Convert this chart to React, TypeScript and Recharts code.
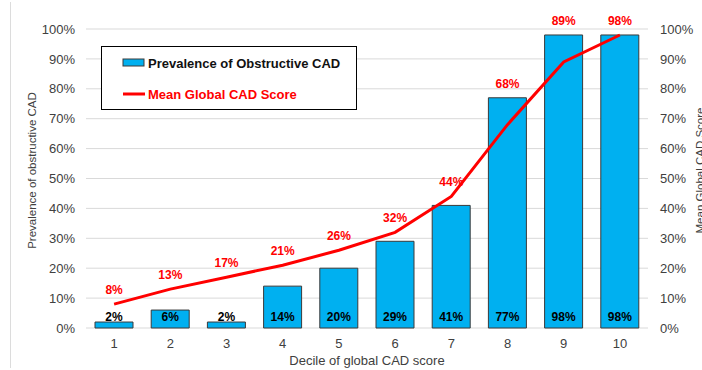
import React from 'react';
import {
  ComposedChart,
  Bar,
  Line,
  XAxis,
  YAxis,
  CartesianGrid,
  LabelList,
  Legend,
  Label,
} from 'recharts';

// Deciles of the global CAD score
const deciles = ['1', '2', '3', '4', '5', '6', '7', '8', '9', '10'];
// Prevalence of obstructive CAD per decile (%)
const prevalence = [2, 6, 2, 14, 20, 29, 41, 77, 98, 98];
// Mean global CAD score per decile (%)
const meanScore = [8, 13, 17, 21, 26, 32, 44, 68, 89, 98];
// Shared percent ticks for both value axes
const percentTicks = [0, 10, 20, 30, 40, 50, 60, 70, 80, 90, 100];

const barLegendName = 'Prevalence of Obstructive CAD';
const lineLegendName = 'Mean Global CAD Score';
const xTitle = 'Decile of global CAD score';
const leftTitle = 'Prevalence of obstructive CAD';
const rightTitle = 'Mean Global CAD Score';

const FONT = '"Liberation Sans", Arial, Helvetica, sans-serif';
const BAR_FILL = '#00B0F0';
const BAR_STROKE = '#3a3a3a';
const LINE_RED = '#FF0000';
const TEXT = '#404040';

const data = deciles.map((d, i) => ({
  decile: d,
  prevalence: prevalence[i],
  score: meanScore[i],
  // score labels sit above whichever mark is taller
  labelAnchor: Math.max(prevalence[i], meanScore[i]),
}));

const pct = (v: number) => `${v}%`;

const LegendBox = () => (
  <div
    style={{
      width: 256,
      height: 64,
      boxSizing: 'border-box',
      border: '1.5px solid #000',
      background: '#fff',
      fontFamily: FONT,
      fontWeight: 700,
      fontSize: 13,
      position: 'relative',
    }}
  >
    <div style={{ position: 'absolute', left: 20, top: 7, display: 'flex', alignItems: 'center', height: 18 }}>
      <svg width={24} height={10} style={{ marginRight: 2 }}>
        <rect x={1} y={1} width={21} height={7} fill={BAR_FILL} stroke={BAR_STROKE} strokeWidth={1} />
      </svg>
      <span style={{ color: '#111' }}>{barLegendName}</span>
    </div>
    <div style={{ position: 'absolute', left: 20, top: 38, display: 'flex', alignItems: 'center', height: 18 }}>
      <svg width={24} height={10} style={{ marginRight: 2 }}>
        <line x1={1} y1={5} x2={23} y2={5} stroke={LINE_RED} strokeWidth={3} />
      </svg>
      <span style={{ color: LINE_RED }}>{lineLegendName}</span>
    </div>
  </div>
);

const makeTitle = (text: string, dx: number, dyShift: number) => (props: any) => {
  const vb = props.viewBox || { x: 0, y: 29, width: 86, height: 299 };
  const cx = vb.x + dx;
  const cy = vb.y + vb.height / 2 + dyShift;
  return (
    <text
      x={cx}
      y={cy}
      transform={`rotate(-90, ${cx}, ${cy})`}
      textAnchor="middle"
      fontFamily={FONT}
      fontSize={11.5}
      fill={TEXT}
    >
      {text}
    </text>
  );
};

export default function App() {
  return (
    <div style={{ position: 'fixed', left: 0, top: 0, width: 702, height: 370, background: '#fff' }}>
      <div style={{ position: 'absolute', left: 10, top: 2, width: 1, height: 366, background: '#dcdcdc' }} />
      <ComposedChart
        width={702}
        height={370}
        data={data}
        margin={{ top: 29, right: 0, bottom: 0, left: 0 }}
        barCategoryGap={0}
        style={{ fontFamily: FONT }}
      >
        <CartesianGrid yAxisId="left" vertical={false} stroke="#d9d9d9" strokeWidth={1} />
        <XAxis
          dataKey="decile"
          axisLine={false}
          tickLine={false}
          tickMargin={5}
          height={42}
          tick={{ fontSize: 13, fill: TEXT, fontFamily: FONT }}
          interval={0}
        >
          <Label
            value={xTitle}
            position="insideBottom"
            offset={5}
            style={{ fontSize: 13, fill: TEXT, fontFamily: FONT }}
          />
        </XAxis>
        <YAxis
          yAxisId="left"
          width={86}
          domain={[0, 100]}
          ticks={percentTicks}
          tickFormatter={pct}
          axisLine={false}
          tickLine={false}
          tickMargin={5}
          tick={{ fontSize: 13, fill: TEXT, fontFamily: FONT }}
          interval={0}
        >
          <Label content={makeTitle(leftTitle, 36, -8)} />
        </YAxis>
        <YAxis
          yAxisId="right"
          orientation="right"
          width={54}
          domain={[0, 100]}
          ticks={percentTicks}
          tickFormatter={pct}
          axisLine={false}
          tickLine={false}
          tickMargin={6}
          tick={{ fontSize: 13, fill: TEXT, fontFamily: FONT }}
          interval={0}
        >
          <Label content={makeTitle(rightTitle, 56, -8)} />
        </YAxis>
        <Legend
          layout="vertical"
          align="center"
          verticalAlign="middle"
          content={() => <LegendBox />}
          wrapperStyle={{ left: 101, top: 46, width: 256, height: 64 }}
        />
        <Bar
          yAxisId="left"
          dataKey="prevalence"
          name={barLegendName}
          fill={BAR_FILL}
          stroke={BAR_STROKE}
          strokeWidth={1}
          barSize={38}
          isAnimationActive={false}
        >
          <LabelList
            dataKey="prevalence"
            position="insideBottom"
            offset={7}
            formatter={pct}
            style={{ fontSize: 12, fontWeight: 700, fill: '#000', fontFamily: FONT }}
          />
        </Bar>
        <Line
          yAxisId="right"
          type="linear"
          dataKey="score"
          name={lineLegendName}
          stroke={LINE_RED}
          strokeWidth={3}
          dot={false}
          activeDot={false}
          isAnimationActive={false}
        />
        <Line
          yAxisId="right"
          type="linear"
          dataKey="labelAnchor"
          stroke="none"
          dot={false}
          activeDot={false}
          legendType="none"
          isAnimationActive={false}
        >
          <LabelList
            dataKey="score"
            position="top"
            offset={10}
            formatter={pct}
            style={{ fontSize: 12, fontWeight: 700, fill: LINE_RED, fontFamily: FONT }}
          />
        </Line>
      </ComposedChart>
    </div>
  );
}
